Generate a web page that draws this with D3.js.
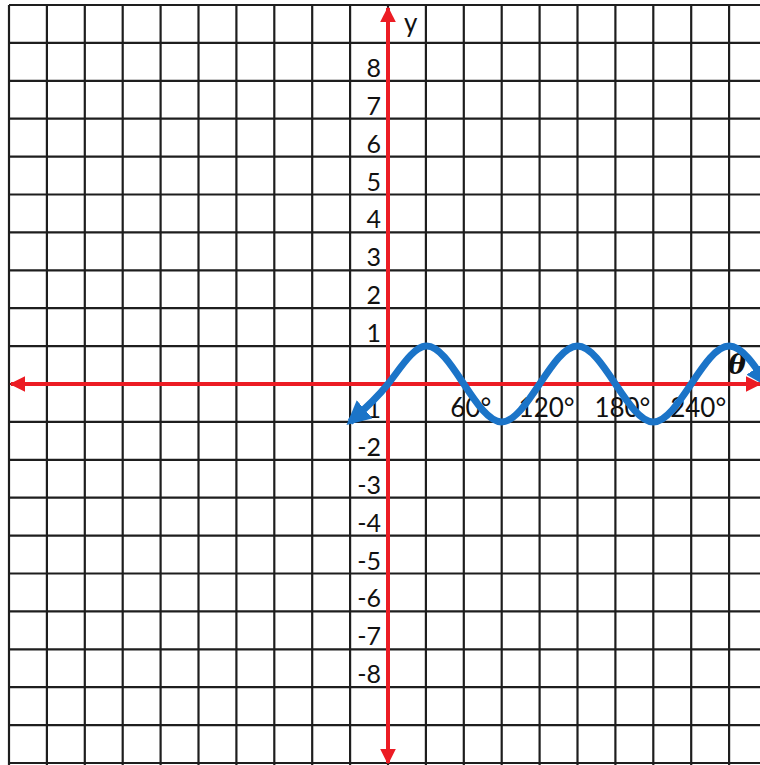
<!DOCTYPE html>
<html>
<head>
<meta charset="utf-8">
<script src="https://cdn.jsdelivr.net/npm/d3@7"></script>
<style>
  html, body { margin: 0; padding: 0; background: #fff; }
  svg { display: block; }
</style>
</head>
<body>
<script>
// ---- data ----
const xGridDegrees = d3.range(-300, 301, 30);       // vertical grid lines (30° per cell)
const yGridValues = d3.range(-10, 11, 1);           // horizontal grid lines
const yTickLabels = [8, 7, 6, 5, 4, 3, 2, 1, -1, -2, -3, -4, -5, -6, -7, -8];
const xTickLabels = [60, 120, 180, 240];
const curveTheta = [-30, 0, 30, 60, 90, 120, 150, 180, 210, 240, 270, 300];
const curveY     = [-1, 0, 1, 0, -1, 0, 1, 0, -1, 0, 1, 0];
const xAxisName = "θ";
const yAxisName = "y";

const W = 760, H = 765;
const x = d3.scaleLinear().domain([-300, 300]).range([9, 767]);
const y = d3.scaleLinear().domain([-10, 10]).range([763, 5]);

const svg = d3.select("body").append("svg").attr("width", W).attr("height", H);
const defs = svg.append("defs");

defs.append("marker").attr("id", "redArrow")
  .attr("viewBox", "0 -5 10 10").attr("refX", 9).attr("refY", 0)
  .attr("markerUnits", "userSpaceOnUse").attr("markerWidth", 16).attr("markerHeight", 16)
  .attr("orient", "auto-start-reverse")
  .append("path").attr("d", "M0,-5L10,0L0,5Z").attr("fill", "#ec1c24");

defs.append("marker").attr("id", "blueArrow")
  .attr("viewBox", "0 -5 10 10").attr("refX", 8).attr("refY", 0)
  .attr("markerUnits", "userSpaceOnUse").attr("markerWidth", 24).attr("markerHeight", 24)
  .attr("orient", "auto-start-reverse")
  .append("path").attr("d", "M0,-5L10,0L0,5Z").attr("fill", "#1b74c8");

// grid
const grid = svg.append("g").attr("stroke", "#1e1e1e").attr("stroke-width", 2.2);
grid.selectAll("line.v").data(xGridDegrees).join("line").attr("class", "v")
  .attr("x1", d => x(d)).attr("x2", d => x(d)).attr("y1", y(10)).attr("y2", H);
grid.selectAll("line.h").data(yGridValues).join("line").attr("class", "h")
  .attr("x1", x(-300)).attr("x2", W).attr("y1", d => y(d)).attr("y2", d => y(d));

// axes
const axes = svg.append("g").attr("stroke", "#ec1c24").attr("stroke-width", 4);
axes.append("line")
  .attr("x1", x(-300) + 2).attr("x2", W).attr("y1", y(0)).attr("y2", y(0))
  .attr("marker-start", "url(#redArrow)").attr("marker-end", "url(#redArrow)");
axes.append("line")
  .attr("x1", x(0)).attr("x2", x(0)).attr("y1", y(-10)).attr("y2", y(10) + 3)
  .attr("marker-start", "url(#redArrow)").attr("marker-end", "url(#redArrow)");

// labels
const font = "Lato, 'Open Sans', sans-serif";
svg.append("g").selectAll("text").data(yTickLabels).join("text")
  .attr("x", x(0) - 7).attr("y", d => y(d) - 4)
  .attr("text-anchor", "end").attr("font-family", font).attr("font-size", 25)
  .attr("fill", "#111").text(d => d);

svg.append("g").selectAll("text").data(xTickLabels).join("text")
  .attr("x", d => x(d) + 7).attr("y", y(-1) - 5)
  .attr("text-anchor", "middle").attr("font-family", font).attr("font-size", 26)
  .attr("fill", "#111").text(d => d + "°");

svg.append("text").attr("x", x(0) + 16).attr("y", 32)
  .attr("font-family", font).attr("font-size", 26).attr("fill", "#111").text(yAxisName);

svg.append("text").attr("x", 728).attr("y", 374)
  .attr("font-family", "'DejaVu Serif', serif").attr("font-style", "italic").attr("font-weight", "bold")
  .attr("font-size", 27).attr("fill", "#111").text(xAxisName);

// curve
const pts = curveTheta.map((t, i) => [t, curveY[i]]);
svg.append("path").datum(pts)
  .attr("d", d3.line().x(d => x(d[0])).y(d => y(d[1])).curve(d3.curveNatural))
  .attr("fill", "none").attr("stroke", "#1b74c8").attr("stroke-width", 7)
  .attr("stroke-linejoin", "round")
  .attr("marker-start", "url(#blueArrow)").attr("marker-end", "url(#blueArrow)");
</script>
</body>
</html>
